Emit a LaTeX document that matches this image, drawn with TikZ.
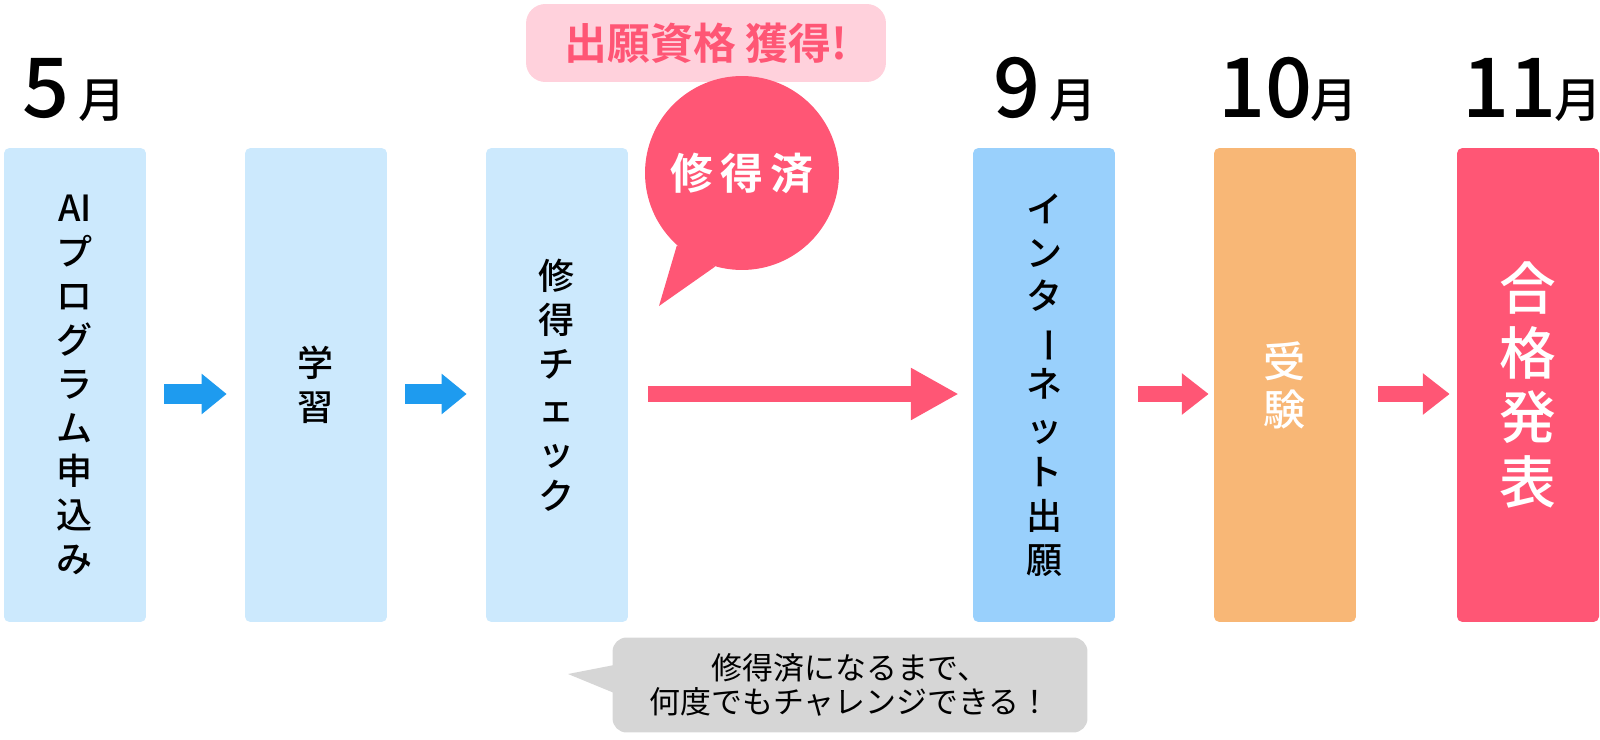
\documentclass[tikz,border=0pt]{standalone}
\usepackage{fontspec}
\setmainfont{Noto Sans CJK JP}[BoldFont={Noto Sans CJK JP Medium}]
\newfontfamily\heavyjp{Noto Sans CJK JP Bold}
\usetikzlibrary{arrows.meta}
\definecolor{lightbox}{RGB}{204,233,253}
\definecolor{netbox}{RGB}{153,208,252}
\definecolor{exambox}{RGB}{248,183,118}
\definecolor{pinkred}{RGB}{255,86,117}
\definecolor{pillpink}{RGB}{255,209,220}
\definecolor{arrowblue}{RGB}{30,155,239}
\definecolor{bubblegrey}{RGB}{214,214,214}
\begin{document}
\begin{tikzpicture}[x=0.02cm,y=-0.02cm,
    stepbox/.style={rectangle,rounded corners=3pt,minimum width=2.84cm,minimum height=9.48cm,
      inner sep=0pt,align=center,font=\fontsize{20.5pt}{25pt}\selectfont\bfseries},
    month/.style={anchor=base west,inner sep=0pt,font=\fontsize{47pt}{50pt}\selectfont\bfseries},
    bluearrow/.style={draw=arrowblue,line width=11.3pt,-{Triangle[length=14.2pt,width=22.1pt]}},
    pinkarrow/.style={draw=pinkred,line width=9.1pt,-{Triangle[length=15.3pt,width=22.7pt]}}]
    \useasboundingbox (0,0) rectangle (1600,740);
    \newcommand{\tsuki}{{\fontsize{27pt}{28pt}\selectfont 月}}
    \node[month] (m5) at (22,118) {5\hspace{5pt}\tsuki};
    \node[month] (m9) at (993,118) {9\hspace{5pt}\tsuki};
    \node[month] (m10) at (1218,118) {10\hspace{-1pt}\tsuki};
    \node[month] (m11) at (1462,118) {11\hspace{-1pt}\tsuki};
    \node[stepbox,fill=lightbox] (b1) at (75,385) {AI\\プ\\ロ\\グ\\ラ\\ム\\申\\込\\み};
    \node[stepbox,fill=lightbox] (b2) at (316,385) {学\\習};
    \node[stepbox,fill=lightbox] (b3) at (557,385) {修\\得\\チ\\ェ\\ッ\\ク};
    \node[stepbox,fill=netbox] (b4) at (1044,385) {イ\\ン\\タ\\\rotatebox[origin=c]{-90}{ー}\\ネ\\ッ\\ト\\出\\願};
    \node[stepbox,fill=exambox,text=white,font=\fontsize{24pt}{27.2pt}\selectfont\bfseries] (b5) at (1285,385) {受\\験};
    \node[stepbox,fill=pinkred,text=white,font=\fontsize{32.3pt}{36.8pt}\selectfont\bfseries] (b6) at (1528,385) {合\\格\\発\\表};
    \draw[bluearrow] ([shift={(18,9)}]b1.east) -- ([shift={(-18,9)}]b2.west);
    \draw[bluearrow] ([shift={(18,9)}]b2.east) -- ([shift={(-19,9)}]b3.west);
    \draw[pinkarrow,-{Triangle[length=27.2pt,width=27.8pt]}] ([shift={(20,9)}]b3.east) -- ([shift={(-14,9)}]b4.west);
    \draw[pinkarrow] ([shift={(23,9)}]b4.east) -- ([shift={(-5,9)}]b5.west);
    \draw[pinkarrow] ([shift={(22,9)}]b5.east) -- ([shift={(-7,9)}]b6.west);
    \node[fill=pillpink,rounded corners=11pt,minimum width=7.2cm,minimum height=1.56cm,text=pinkred,
      font=\fontsize{24.4pt}{26pt}\selectfont\heavyjp] (gain) at (706,43) {出願資格 獲得!};
    \node[circle,fill=pinkred,minimum size=3.88cm,inner sep=0pt,text=white,
      font=\fontsize{24.4pt}{26pt}\selectfont\heavyjp] (done) at (742,173) {修\,得\,済};
    \coordinate (donetip) at (659,306);
    \fill[pinkred] (done.228) -- (donetip) -- (done.254) -- cycle;
    \node[fill=bubblegrey,rounded corners=8pt,minimum width=9.5cm,minimum height=1.9cm,align=center,
      font=\fontsize{17.6pt}{19.3pt}\selectfont] (retry) at (850,685) {修得済になるまで、\\何度でもチャレンジできる！};
    \coordinate (retrytip) at (568,674);
    \fill[bubblegrey] ([shift={(2,-20)}]retry.west) -- (retrytip) -- ([shift={(2,8)}]retry.west) -- cycle;
\end{tikzpicture}
\end{document}
